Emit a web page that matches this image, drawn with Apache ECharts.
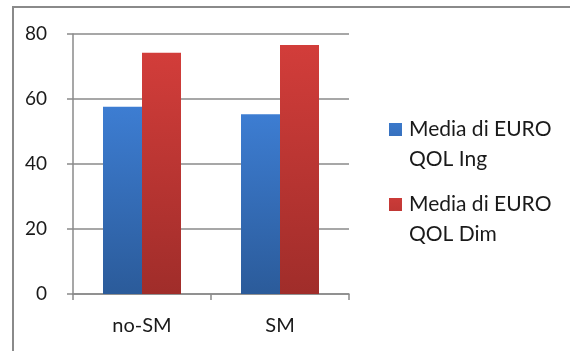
<!DOCTYPE html>
<html>
<head>
<meta charset="utf-8">
<script src="https://cdn.jsdelivr.net/npm/echarts@6/dist/echarts.min.js"></script>
<style>
  html, body { margin: 0; padding: 0; background: #ffffff; }
  #chart { width: 570px; height: 351px; }
</style>
</head>
<body>
<div id="chart"></div>
<script>
// Group labels along the x axis
const categories = ['no-SM', 'SM'];
// Series names (legend entries)
const seriesNames = ['Media di EURO QOL Ing', 'Media di EURO QOL Dim'];
// Mean values per group
const valuesIng = [57.6, 55.3];
const valuesDim = [74.2, 76.6];
// Value-axis ticks
const yTicks = [0, 20, 40, 60, 80];

const FONT = 'Lato, "Open Sans", sans-serif';
const TEXT = '#1a1a1a';

function grad(top, bottom) {
  return new echarts.graphic.LinearGradient(0, 0, 0, 1, [
    { offset: 0, color: top },
    { offset: 1, color: bottom }
  ]);
}

// Legend marker: a square sitting next to the first text line of a two-line label.
// The tiny segments at the corners fix the icon's bounding box to 15 x 60.
const legendIcon = 'path://M0,0L0.01,0M0,8.5L13,8.5L13,21.5L0,21.5ZM15,60L15.01,60';

const chart = echarts.init(document.getElementById('chart'), null, { renderer: 'canvas' });

chart.setOption({
  animation: false,
  backgroundColor: '#ffffff',
  graphic: [
    { type: 'line', shape: { x1: 12, y1: 7, x2: 570, y2: 7 }, style: { stroke: '#8a8a8a', lineWidth: 2 } },
    { type: 'line', shape: { x1: 13, y1: 7, x2: 13, y2: 351 }, style: { stroke: '#8a8a8a', lineWidth: 2 } }
  ],
  grid: { left: 73, right: 221, top: 34, bottom: 57, containLabel: false },
  legend: {
    orient: 'vertical',
    left: 389,
    top: 114.5,
    padding: 0,
    itemWidth: 15,
    itemHeight: 60,
    itemGap: 15,
    icon: legendIcon,
    data: seriesNames,
    formatter: function (name) {
      return name.replace('EURO ', 'EURO\n');
    },
    textStyle: { fontFamily: FONT, fontSize: 21, color: TEXT, lineHeight: 30 }
  },
  xAxis: {
    type: 'category',
    data: categories,
    axisLine: { show: true, lineStyle: { color: '#8a8a8a', width: 1.5 } },
    axisTick: { show: true, length: 6, inside: false, lineStyle: { color: '#8a8a8a', width: 1.5 } },
    axisLabel: { fontFamily: FONT, fontSize: 20, color: TEXT, margin: 22 }
  },
  yAxis: {
    type: 'value',
    min: 0,
    max: yTicks[yTicks.length - 1],
    interval: 20,
    axisLine: { show: true, lineStyle: { color: '#8a8a8a', width: 1.5 } },
    axisTick: { show: true, length: 6, lineStyle: { color: '#8a8a8a', width: 1.5 } },
    splitLine: { show: true, lineStyle: { color: '#8a8a8a', width: 1.5 } },
    axisLabel: { fontFamily: FONT, fontSize: 19, color: TEXT, margin: 26 }
  },
  series: [
    {
      name: seriesNames[0],
      type: 'bar',
      data: valuesIng,
      barWidth: 39,
      barGap: '0%',
      itemStyle: { color: grad('#3d7dd2', '#2b5b9a') }
    },
    {
      name: seriesNames[1],
      type: 'bar',
      data: valuesDim,
      barWidth: 39,
      barGap: '0%',
      itemStyle: { color: grad('#d23d3a', '#a02d2a') }
    }
  ]
});
</script>
</body>
</html>
